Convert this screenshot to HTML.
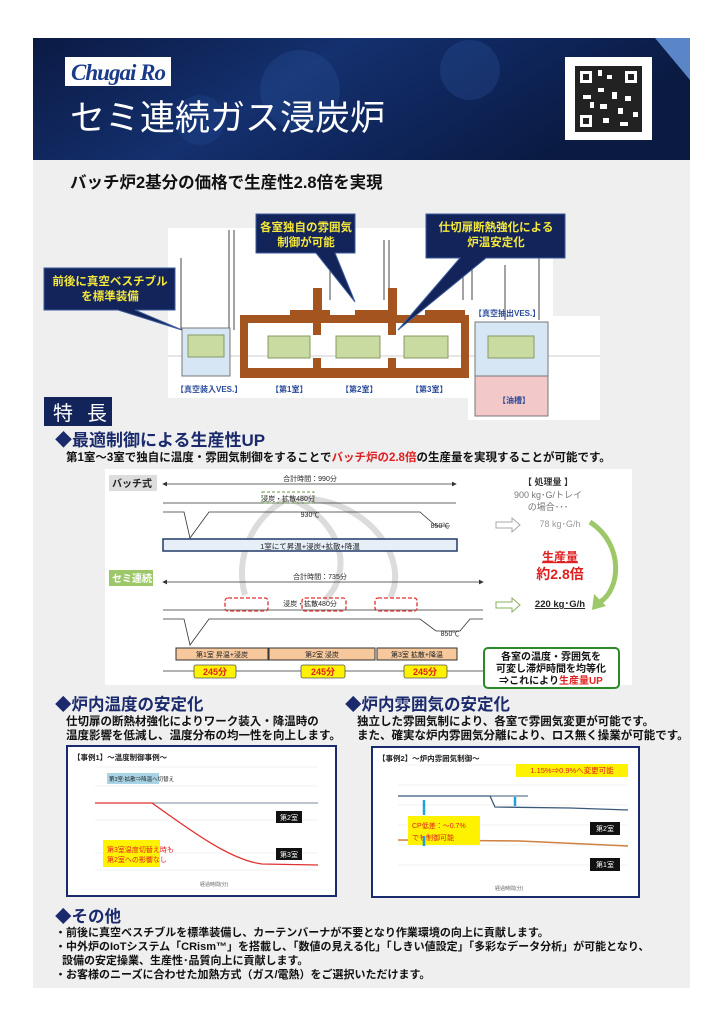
<!DOCTYPE html>
<html><head><meta charset="utf-8"><style>
html,body{margin:0;padding:0;background:#fff;}
svg{display:block;font-family:"Liberation Sans","Noto Sans CJK JP",sans-serif;}
</style></head><body>
<svg width="724" height="1024" viewBox="0 0 724 1024" xmlns="http://www.w3.org/2000/svg">
<defs>
<linearGradient id="hd" x1="0" y1="0" x2="1" y2="0.3">
<stop offset="0" stop-color="#0b1a44"/><stop offset="0.45" stop-color="#14306e"/><stop offset="0.75" stop-color="#0e2458"/><stop offset="1" stop-color="#0a1a40"/></linearGradient>
<marker id="ah" markerWidth="6" markerHeight="6" refX="5" refY="3" orient="auto"><path d="M0,0L6,3L0,6z" fill="#333"/></marker>
<marker id="at" markerWidth="6" markerHeight="6" refX="1" refY="3" orient="auto"><path d="M6,0L0,3L6,6z" fill="#333"/></marker>
</defs>
<rect x="33" y="38" width="657" height="950" fill="#efefef"/>
<!-- header -->
<rect x="33" y="38" width="657" height="122" fill="url(#hd)"/>
<circle cx="300" cy="90" r="40" fill="#2a5aa8" opacity="0.25"/>
<circle cx="470" cy="70" r="30" fill="#3a70c0" opacity="0.2"/>
<circle cx="200" cy="120" r="25" fill="#2a5aa8" opacity="0.2"/>
<polygon points="655,38 690,38 690,80" fill="#5a86c8"/>
<rect x="65" y="57" width="106" height="29" fill="#fff"/>
<text x="118" y="80" text-anchor="middle" font-family="Liberation Serif,serif" font-style="italic" font-weight="bold" font-size="23" fill="#1a3a8a" letter-spacing="-1">Chugai Ro</text>
<text x="70" y="130" font-size="35" fill="#fff">セミ連続ガス浸炭炉</text>
<rect x="565" y="57" width="87" height="83" fill="#fff"/>
<rect x="575" y="66" width="67" height="66" fill="#222"/>
<g fill="#fff">
<rect x="580" y="71" width="12" height="12"/><rect x="625" y="71" width="12" height="12"/><rect x="580" y="115" width="12" height="12"/>
<rect x="598" y="70" width="4" height="6"/><rect x="607" y="75" width="5" height="4"/><rect x="598" y="88" width="6" height="4"/><rect x="612" y="92" width="5" height="7"/><rect x="583" y="95" width="8" height="4"/><rect x="625" y="96" width="6" height="5"/><rect x="600" y="104" width="7" height="5"/><rect x="618" y="108" width="5" height="6"/><rect x="603" y="118" width="6" height="5"/><rect x="620" y="122" width="8" height="4"/><rect x="590" y="102" width="4" height="6"/><rect x="633" y="112" width="5" height="5"/>
</g>
<g fill="#222"><rect x="583" y="74" width="6" height="6"/><rect x="628" y="74" width="6" height="6"/><rect x="583" y="118" width="6" height="6"/></g>
<text x="70" y="188" font-size="16.5" font-weight="bold" fill="#111">バッチ炉2基分の価格で生産性2.8倍を実現</text>

<!-- furnace image -->
<rect x="168" y="228" width="385" height="170" fill="#fff"/>
<rect x="468" y="316" width="132" height="104" fill="#fff"/>
<g stroke="#666" stroke-width="1.2" fill="none">
<line x1="181" y1="258" x2="181" y2="330"/><line x1="229" y1="230" x2="229" y2="330"/><line x1="234" y1="230" x2="234" y2="330"/>
<line x1="330" y1="240" x2="330" y2="300"/><line x1="384" y1="240" x2="384" y2="300"/><line x1="389" y1="240" x2="389" y2="300"/>
<line x1="463" y1="265" x2="463" y2="300"/><line x1="472" y1="265" x2="472" y2="300"/><line x1="505" y1="265" x2="505" y2="320"/><line x1="539" y1="258" x2="539" y2="320"/>
<line x1="168" y1="356" x2="600" y2="356" stroke="#999" stroke-width="0.6"/>
</g>
<rect x="182" y="328" width="48" height="48" fill="#d6e6f4" stroke="#777"/>
<rect x="188" y="335" width="36" height="22" fill="#c9dba0" stroke="#889966"/>
<g fill="#a4541e">
<rect x="240" y="315" width="228" height="8"/><rect x="313" y="288" width="9" height="35"/><rect x="388" y="288" width="9" height="35"/>
<rect x="240" y="368" width="228" height="10"/><rect x="240" y="315" width="8" height="63"/><rect x="461" y="315" width="8" height="63"/>
<rect x="313" y="323" width="8" height="12"/><rect x="388" y="323" width="8" height="12"/><rect x="313" y="358" width="8" height="12"/><rect x="388" y="358" width="8" height="12"/>
<rect x="290" y="310" width="40" height="6"/><rect x="355" y="310" width="40" height="6"/><rect x="425" y="310" width="40" height="6"/>
</g>
<rect x="268" y="336" width="42" height="22" fill="#c9dba0" stroke="#889966"/>
<rect x="336" y="336" width="44" height="22" fill="#c9dba0" stroke="#889966"/>
<rect x="404" y="336" width="44" height="22" fill="#c9dba0" stroke="#889966"/>
<rect x="475" y="322" width="73" height="54" fill="#d6e6f4" stroke="#777"/>
<rect x="475" y="376" width="73" height="40" fill="#f2c8c8" stroke="#777"/>
<rect x="488" y="336" width="46" height="22" fill="#c9dba0" stroke="#889966"/>
<g font-size="8" font-weight="bold" fill="#2a4a9a">
<text x="176" y="392">【真空装入VES.】</text><text x="271" y="392">【第1室】</text><text x="341" y="392">【第2室】</text><text x="411" y="392">【第3室】</text>
<text x="474" y="316">【真空抽出VES.】</text><text x="498" y="403">【油槽】</text></g>
<g fill="#12245a" stroke="#3a5a9a" stroke-width="1">
<polygon points="44,268 175,268 175,310 135,310 182,330 118,310 44,310"/>
<polygon points="256,214 355,214 355,253 335,253 355,302 316,253 256,253"/>
<polygon points="426,214 565,214 565,258 486,258 398,330 460,258 426,258"/>
</g>
<g font-size="11.5" font-weight="bold" fill="#f5e83a" text-anchor="middle">
<text x="110" y="285">前後に真空ベスチブル</text><text x="110" y="300">を標準装備</text>
<text x="306" y="231">各室独自の雰囲気</text><text x="306" y="246">制御が可能</text>
<text x="496" y="231">仕切扉断熱強化による</text><text x="496" y="246">炉温安定化</text></g>

<rect x="44" y="397" width="68" height="29" fill="#12245a"/>
<text x="53" y="420" font-size="20" fill="#fff" letter-spacing="14">特長</text>
<text x="55" y="446" font-size="17" font-weight="bold" fill="#1a2a6c">◆最適制御による生産性UP</text>
<text x="66" y="461" font-size="11.5" font-weight="bold" fill="#111">第1室～3室で独自に温度・雰囲気制御をすることで<tspan fill="#e02020">バッチ炉の2.8倍</tspan>の生産量を実現することが可能です。</text>

<!-- process chart -->
<rect x="105" y="469" width="527" height="216" fill="#fff"/>
<g fill="none" stroke="#dcdcdc" stroke-width="6"><path d="M285,500 C250,520 235,560 245,595"/><path d="M293,500 C340,520 355,570 325,600"/><path d="M300,498 C370,500 410,560 390,598"/></g>
<rect x="109" y="475" width="48" height="16" fill="#ddd"/>
<text x="112" y="487" font-size="10" font-weight="bold" fill="#222">バッチ式</text>
<rect x="109" y="570" width="44" height="16" fill="#9cc86a"/>
<text x="112" y="582" font-size="10" font-weight="bold" fill="#fff">セミ連続</text>
<g stroke="#333" stroke-width="0.8" fill="none">
<line x1="163" y1="484" x2="456" y2="484" marker-end="url(#ah)" marker-start="url(#at)"/>
<line x1="163" y1="503" x2="456" y2="503"/>
<polyline points="163,512 184,512 190,538 209,512 420,512 436,526 450,526"/>
<line x1="163" y1="582" x2="483" y2="582" marker-end="url(#ah)" marker-start="url(#at)"/>
<line x1="163" y1="610" x2="483" y2="610"/>
<polyline points="163,619 184,619 190,645 209,619 420,619 436,631 460,631 470,619 483,619"/>
<line x1="163" y1="671" x2="483" y2="671"/>
</g>
<rect x="163" y="539" width="294" height="12" fill="#e6eef8" stroke="#22386a" stroke-width="1.5"/>
<text x="310" y="549" font-size="7.5" text-anchor="middle" fill="#222">1室にて昇温+浸炭+拡散+降温</text>
<g fill="#f6c89c" stroke="#333" stroke-width="1">
<rect x="176" y="648" width="92" height="12"/><rect x="269" y="648" width="106" height="12"/><rect x="377" y="648" width="80" height="12"/></g>
<g font-size="7" fill="#222" text-anchor="middle"><text x="222" y="657">第1室 昇温+浸炭</text><text x="322" y="657">第2室 浸炭</text><text x="417" y="657">第3室 拡散+降温</text>
<text x="310" y="481">合計時間：990分</text><text x="320" y="579">合計時間：735分</text><text x="288" y="501">浸炭・拡散480分</text><text x="310" y="517">930℃</text><text x="310" y="606">浸炭・拡散480分</text><text x="440" y="528">850℃</text><text x="450" y="636">850℃</text></g>
<rect x="262" y="492" width="52" height="11" fill="none" stroke="#6a9a4a" stroke-dasharray="3,2"/>
<g fill="none" stroke="#e03030" stroke-width="1.3" stroke-dasharray="4,2"><rect x="225" y="598" width="43" height="13" rx="3"/><rect x="302" y="598" width="44" height="13" rx="3"/><rect x="375" y="598" width="42" height="13" rx="3"/></g>
<g fill="#fff200" stroke="#555" stroke-width="0.8"><rect x="194" y="665" width="42" height="13" rx="2"/><rect x="301" y="665" width="44" height="13" rx="2"/><rect x="404" y="665" width="43" height="13" rx="2"/></g>
<g font-size="9" font-weight="bold" fill="#e02020" text-anchor="middle"><text x="215" y="675">245分</text><text x="323" y="675">245分</text><text x="425" y="675">245分</text></g>
<g font-size="9" fill="#777" text-anchor="middle"><text x="548" y="485" fill="#333" font-weight="bold">【 処理量 】</text><text x="548" y="498">900 kg･G/トレイ</text><text x="548" y="510">の場合･･･</text><text x="560" y="527" fill="#999">78 kg･G/h</text></g>
<text x="560" y="561" font-size="12" font-weight="bold" fill="#e02020" text-anchor="middle" text-decoration="underline">生産量</text>
<text x="560" y="579" font-size="14" font-weight="bold" fill="#e02020" text-anchor="middle">約2.8倍</text>
<text x="560" y="607" font-size="9.5" font-weight="bold" fill="#222" text-anchor="middle" text-decoration="underline">220 kg･G/h</text>
<polygon points="496,522 512,522 512,518 520,525 512,532 512,528 496,528" fill="#fff" stroke="#aaa"/>
<polygon points="496,602 512,602 512,598 520,605 512,612 512,608 496,608" fill="#fff" stroke="#8ab060"/>
<path d="M590,522 C625,545 620,590 600,602" fill="none" stroke="#9cc86a" stroke-width="5"/>
<polygon points="594,594 606,606 592,610" fill="#9cc86a"/>
<rect x="484" y="648" width="135" height="40" rx="4" fill="#fff" stroke="#2a8a2a" stroke-width="2"/>
<g font-size="10" font-weight="bold" fill="#111" text-anchor="middle"><text x="551" y="660">各室の温度・雰囲気を</text><text x="551" y="672">可変し滞炉時間を均等化</text><text x="551" y="684">⇒これにより<tspan fill="#e02020">生産量UP</tspan></text></g>

<text x="55" y="710" font-size="16.5" font-weight="bold" fill="#1a2a6c">◆炉内温度の安定化</text>
<text x="345" y="710" font-size="16.5" font-weight="bold" fill="#1a2a6c">◆炉内雰囲気の安定化</text>
<g font-size="11.5" font-weight="bold" fill="#111">
<text x="66" y="725">仕切扉の断熱材強化によりワーク装入・降温時の</text><text x="66" y="739">温度影響を低減し、温度分布の均一性を向上します。</text>
<text x="357" y="725">独立した雰囲気制により、各室で雰囲気変更が可能です。</text><text x="357" y="739">また、確実な炉内雰囲気分離により、ロス無く操業が可能です。</text></g>
<rect x="67" y="746" width="269" height="150" fill="#fff" stroke="#1a2a6c" stroke-width="2"/>
<text x="73" y="760" font-size="7.5" font-weight="bold" fill="#222">【事例1】～温度制御事例～</text>
<g stroke="#e4e4e4" stroke-width="0.6"><line x1="95" y1="767" x2="318" y2="767"/><line x1="95" y1="786" x2="318" y2="786"/><line x1="95" y1="820" x2="318" y2="820"/><line x1="95" y1="853" x2="318" y2="853"/><line x1="95" y1="870" x2="318" y2="870"/></g>
<line x1="95" y1="803" x2="318" y2="803" stroke="#7a8a9a" stroke-width="1"/>
<path d="M95,803 L152,803 C190,830 230,860 262,864 L318,865" fill="none" stroke="#e03030" stroke-width="1.3"/>
<rect x="107" y="773" width="52" height="11" fill="#a8d4e6"/>
<text x="109" y="781" font-size="5.5" fill="#222">第3室:拡散⇒降温へ切替え</text>
<rect x="276" y="811" width="26" height="12" fill="#111"/><text x="289" y="820" font-size="7" fill="#fff" text-anchor="middle">第2室</text>
<rect x="276" y="848" width="26" height="12" fill="#111"/><text x="289" y="857" font-size="7" fill="#fff" text-anchor="middle">第3室</text>
<rect x="103" y="840" width="57" height="27" fill="#fff200"/>
<text x="107" y="852" font-size="7" fill="#e02020">第3室温度切替え時も</text><text x="107" y="862" font-size="7" fill="#e02020">第2室への影響なし</text>
<g font-size="5" fill="#666"><text x="200" y="886">経過時間(分)</text></g>
<rect x="372" y="747" width="267" height="150" fill="#fff" stroke="#1a2a6c" stroke-width="2"/>
<text x="378" y="761" font-size="7.5" font-weight="bold" fill="#222">【事例2】～炉内雰囲気制御～</text>
<g stroke="#e4e4e4" stroke-width="0.6"><line x1="398" y1="765" x2="628" y2="765"/><line x1="398" y1="785" x2="628" y2="785"/><line x1="398" y1="805" x2="628" y2="805"/><line x1="398" y1="825" x2="628" y2="825"/><line x1="398" y1="845" x2="628" y2="845"/><line x1="398" y1="865" x2="628" y2="865"/></g>
<path d="M398,796 L490,796 L495,807 L570,808 L628,810" fill="none" stroke="#3a5a7a" stroke-width="1.3"/>
<line x1="490" y1="796" x2="528" y2="796" stroke="#3a5a7a"/>
<path d="M398,840 L520,841 L628,846" fill="none" stroke="#d08040" stroke-width="1.5"/>
<rect x="516" y="764" width="112" height="13" fill="#fff200"/>
<text x="572" y="773" font-size="7.5" fill="#e02020" text-anchor="middle">1.15%⇒0.9%へ変更可能</text>
<rect x="408" y="816" width="72" height="29" fill="#fff200"/>
<text x="412" y="828" font-size="7" fill="#e02020">CP低差：～0.7%</text><text x="412" y="840" font-size="7" fill="#e02020">でも制御可能</text>
<g stroke="#20a0e0" stroke-width="2.5"><line x1="424" y1="800" x2="424" y2="815"/><line x1="424" y1="846" x2="424" y2="836"/><line x1="515" y1="797" x2="515" y2="806"/></g>
<rect x="590" y="822" width="30" height="13" fill="#111"/><text x="605" y="831" font-size="7" fill="#fff" text-anchor="middle">第2室</text>
<rect x="590" y="858" width="30" height="13" fill="#111"/><text x="605" y="867" font-size="7" fill="#fff" text-anchor="middle">第1室</text>
<g font-size="5" fill="#666"><text x="495" y="890">経過時間(分)</text></g>
<text x="55" y="922" font-size="16.5" font-weight="bold" fill="#1a2a6c">◆その他</text>
<g font-size="11" font-weight="bold" fill="#111">
<text x="55" y="936">・前後に真空ベスチブルを標準装備し、カーテンバーナが不要となり作業環境の向上に貢献します。</text>
<text x="55" y="950">・中外炉のIoTシステム「CRism™」を搭載し、「数値の見える化」「しきい値設定」「多彩なデータ分析」が可能となり、</text>
<text x="62" y="964">設備の安定操業、生産性･品質向上に貢献します。</text>
<text x="55" y="978">・お客様のニーズに合わせた加熱方式（ガス/電熱）をご選択いただけます。</text></g>
</svg>
</body></html>
